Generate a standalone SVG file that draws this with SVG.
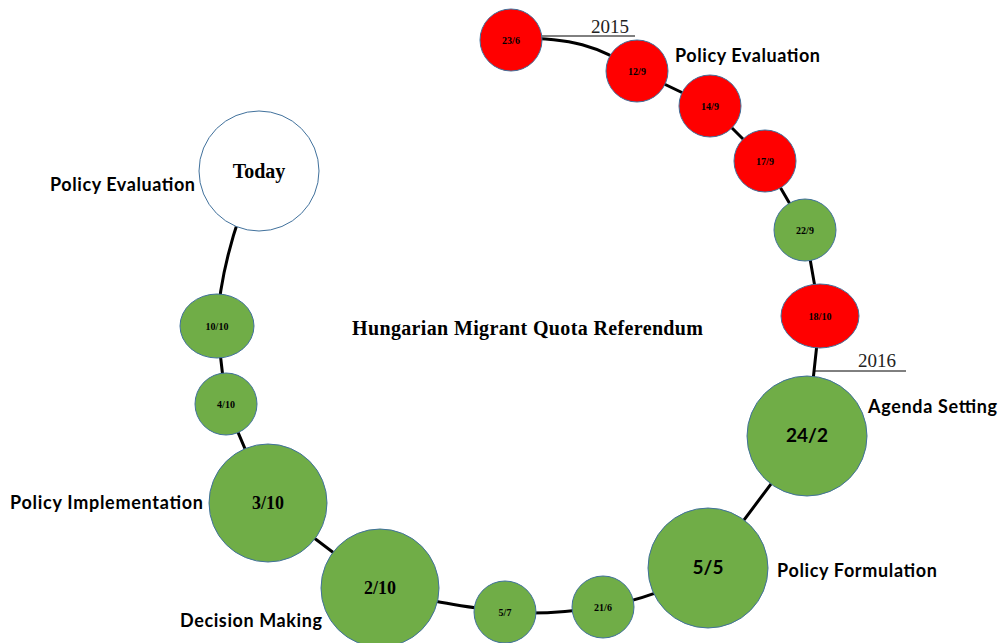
<svg xmlns="http://www.w3.org/2000/svg" width="1000" height="643" viewBox="0 0 1000 643">
  <style>
    .node { stroke: #41719C; stroke-width: 1; }
    .green { fill: #70AD47; }
    .red { fill: #FF0000; }
    .white { fill: #FFFFFF; }
    .date { font-family: "Liberation Serif", serif; font-weight: bold; fill: #000; text-anchor: middle; }
    .sm { font-size: 10px; }
    .lg { font-size: 18px; }
    .sans { font-family: Lato, "Liberation Sans", sans-serif; font-weight: bold; fill: #000; }
    .label { font-family: Lato, "Liberation Sans", sans-serif; font-weight: bold; font-size: 18px; fill: #000; }
    .year { font-family: "Liberation Serif", serif; font-size: 19px; fill: #222; }
    .conn { fill: none; stroke: #000; stroke-width: 3; }
    .tick { fill: none; stroke: #000; stroke-width: 1; }
  </style>

  <!-- timeline path running behind the date circles -->
  <g id="connectors">
    <path class="conn" d="M511,38 C570,37 600,46 637,71"/>
    <path class="conn" d="M637,71 L710,106 L765,161 L805,230 L820,316 L807,436 L708,568"/>
    <path class="conn" d="M708,568 C670,590 640,600 603,607 C570,612 540,615 505,612 C460,606 420,600 380,588"/>
    <path class="conn" d="M380,588 L268,503 L226,404 L217,326"/>
    <path class="conn" d="M217,326 C219,290 228,250 240,215"/>
    <!-- year markers -->
    <line class="tick" x1="542" y1="36" x2="635" y2="36"/>
    <line class="tick" x1="814" y1="371" x2="906" y2="371"/>
  </g>

  <text class="year" x="591" y="33">2015</text>
  <text class="year" x="858" y="367">2016</text>

  <g id="n-23-6"><circle class="node red" cx="511" cy="40" r="31"/><text class="date sm" x="511" y="44">23/6</text></g>
  <g id="n-12-9"><circle class="node red" cx="637" cy="71" r="31"/><text class="date sm" x="637" y="75">12/9</text></g>
  <g id="n-14-9"><circle class="node red" cx="710" cy="106" r="31"/><text class="date sm" x="710" y="110">14/9</text></g>
  <g id="n-17-9"><circle class="node red" cx="765" cy="161" r="31"/><text class="date sm" x="765" y="165">17/9</text></g>
  <g id="n-22-9"><circle class="node green" cx="805" cy="230" r="31"/><text class="date sm" x="805" y="234">22/9</text></g>
  <g id="n-18-10"><ellipse class="node red" cx="820" cy="316" rx="39" ry="32"/><text class="date sm" x="820" y="320">18/10</text></g>
  <g id="n-24-2"><circle class="node green" cx="807" cy="436" r="60"/><text class="sans" x="807" y="442" font-size="19" text-anchor="middle">24/2</text></g>
  <g id="n-5-5"><circle class="node green" cx="708" cy="568" r="60"/><text class="sans" x="708" y="574" font-size="19" text-anchor="middle">5/5</text></g>
  <g id="n-21-6"><circle class="node green" cx="603" cy="607" r="31"/><text class="date sm" x="603" y="611">21/6</text></g>
  <g id="n-5-7"><circle class="node green" cx="505" cy="612" r="31"/><text class="date sm" x="505" y="616">5/7</text></g>
  <g id="n-2-10"><circle class="node green" cx="380" cy="588" r="59"/><text class="date lg" x="380" y="594">2/10</text></g>
  <g id="n-3-10"><circle class="node green" cx="268" cy="503" r="59"/><text class="date lg" x="268" y="509">3/10</text></g>
  <g id="n-4-10"><circle class="node green" cx="226" cy="404" r="31"/><text class="date sm" x="226" y="408">4/10</text></g>
  <g id="n-10-10"><ellipse class="node green" cx="217" cy="326" rx="37" ry="32"/><text class="date sm" x="217" y="330">10/10</text></g>
  <g id="n-today"><circle class="node white" cx="259" cy="171" r="60"/><text class="date" x="259" y="178" font-size="20">Today</text></g>

  <!-- phase labels -->
  <g id="labels">
    <text class="label" x="675" y="62" textLength="145">Policy Evaluation</text>
    <text class="label" x="50" y="191" textLength="145">Policy Evaluation</text>
    <text class="label" x="868" y="413" textLength="129">Agenda Setting</text>
    <text class="label" x="777" y="577" textLength="160">Policy Formulation</text>
    <text class="label" x="10" y="509" textLength="193">Policy Implementation</text>
    <text class="label" x="180" y="627" textLength="142">Decision Making</text>
  </g>

  <text id="title" x="352" y="335" font-family="Liberation Serif, serif" font-weight="bold" font-size="20" textLength="351">Hungarian Migrant Quota Referendum</text>
</svg>
